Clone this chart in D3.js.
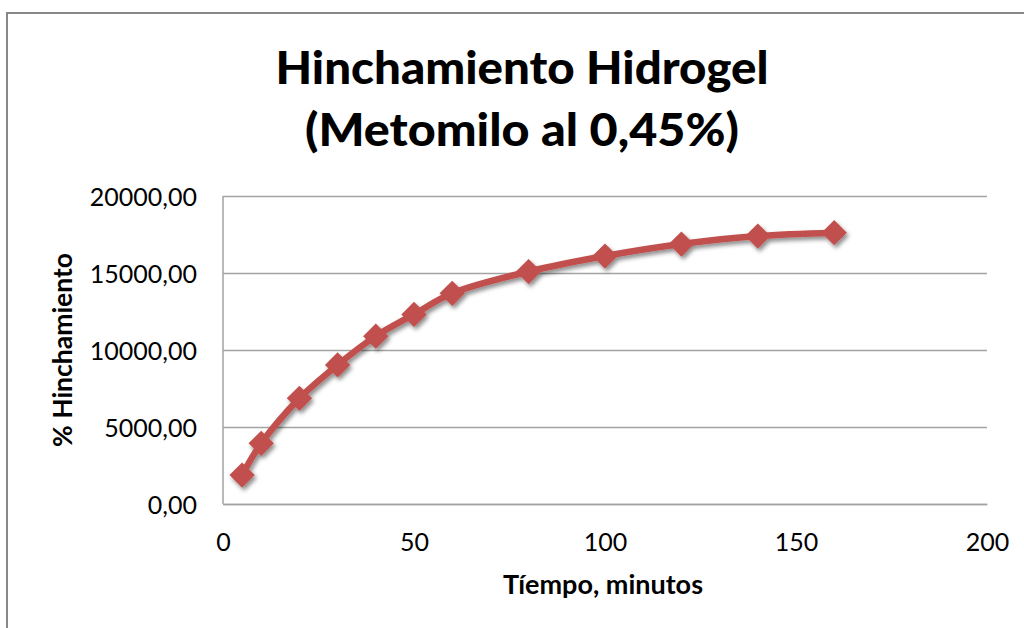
<!DOCTYPE html>
<html>
<head>
<meta charset="utf-8">
<script src="https://cdn.jsdelivr.net/npm/d3@7"></script>
<style>
  html, body { margin: 0; padding: 0; background: #fff; }
  svg { display: block; }
  text { font-family: Lato, "Open Sans", sans-serif; fill: #000; }
</style>
</head>
<body>
<svg id="chart" width="1024" height="628"></svg>
<script>
// Swelling of the hydrogel over time
const tiempo = [5, 10, 20, 30, 40, 50, 60, 80, 100, 120, 140, 160];
const hinchamiento = [1880, 3940, 6860, 9030, 10900, 12310, 13680, 15090, 16100, 16880, 17400, 17620];
const xTicks = [0, 50, 100, 150, 200];
const yTicks = [0, 5000, 10000, 15000, 20000];
const titleLines = ["Hinchamiento Hidrogel", "(Metomilo al 0,45%)"];
const xTitle = "Tíempo, minutos";
const yTitle = "% Hinchamiento";

const svg = d3.select("#chart");
const plot = { left: 223, right: 987, top: 196, bottom: 504 };

const x = d3.scaleLinear().domain([0, 200]).range([plot.left, plot.right]);
const y = d3.scaleLinear().domain([0, 20000]).range([plot.bottom, plot.top]);

const fmt = v => d3.format(".2f")(v).replace(".", ",");

// drop shadow used by the series
const defs = svg.append("defs");
const f = defs.append("filter").attr("id", "shadow")
  .attr("x", "-20%").attr("y", "-20%").attr("width", "140%").attr("height", "140%");
f.append("feDropShadow").attr("dx", 2).attr("dy", 3).attr("stdDeviation", 2)
  .attr("flood-color", "#000").attr("flood-opacity", 0.45);

// chart frame
svg.append("rect").attr("x", 7).attr("y", 13).attr("width", 1100).attr("height", 700)
  .attr("fill", "#fff").attr("stroke", "#888").attr("stroke-width", 2);

// title
const titleWidths = [493, 434];
svg.selectAll("text.title").data(titleLines).join("text").attr("class", "title")
  .attr("text-anchor", "middle")
  .style("font-weight", "900").style("font-size", "46px")
  .attr("x", 522)
  .attr("y", (d, i) => 84 + i * 62)
  .attr("textLength", (d, i) => titleWidths[i])
  .attr("lengthAdjust", "spacingAndGlyphs")
  .text(d => d);

// y gridlines
const yAxis = d3.axisLeft(y).tickValues(yTicks).tickSize(-(plot.right - plot.left))
  .tickPadding(26).tickFormat(fmt);
const gy = svg.append("g").attr("transform", `translate(${plot.left},0)`).call(yAxis);
gy.select(".domain").remove();
gy.selectAll(".tick line").attr("stroke", "#a3a3a3").attr("stroke-width", 1.3);
gy.selectAll(".tick text").style("font-size", "25px").attr("fill", "#222")
  .attr("dy", "0.36em");

// x axis
const xAxis = d3.axisBottom(x).tickValues(xTicks).tickSize(0).tickPadding(29)
  .tickFormat(d3.format("d"));
const gx = svg.append("g").attr("transform", `translate(0,${plot.bottom})`).call(xAxis);
gx.select(".domain").attr("stroke", "#a3a3a3").attr("stroke-width", 1.5);
gx.selectAll(".tick text").style("font-size", "25px").attr("fill", "#222");

// left axis line
svg.append("line")
  .attr("x1", plot.left).attr("x2", plot.left)
  .attr("y1", plot.top).attr("y2", plot.bottom)
  .attr("stroke", "#a3a3a3").attr("stroke-width", 1.5);

// axis titles
svg.append("text").attr("x", 603).attr("y", 594)
  .attr("text-anchor", "middle").style("font-weight", "bold").style("font-size", "26px")
  .attr("textLength", 200).attr("lengthAdjust", "spacingAndGlyphs")
  .text(xTitle);
svg.append("text").attr("transform", `translate(72,${(plot.top + plot.bottom) / 2}) rotate(-90)`)
  .attr("text-anchor", "middle").style("font-weight", "bold").style("font-size", "26px")
  .attr("textLength", 194).attr("lengthAdjust", "spacingAndGlyphs")
  .text(yTitle);

// series
const data = tiempo.map((t, i) => ({ t, v: hinchamiento[i] }));
const line = d3.line().x(d => x(d.t)).y(d => y(d.v)).curve(d3.curveCatmullRom.alpha(0.5));
const series = svg.append("g").attr("filter", "url(#shadow)");
series.append("path").datum(data).attr("d", line)
  .attr("fill", "none").attr("stroke", "#C0504D").attr("stroke-width", 6.5)
  .attr("stroke-linejoin", "round");
series.selectAll("path.mk").data(data).join("path").attr("class", "mk")
  .attr("d", d3.symbol(d3.symbolSquare, 320))
  .attr("transform", d => `translate(${x(d.t)},${y(d.v)}) rotate(45)`)
  .attr("fill", "#C0504D");
</script>
</body>
</html>
